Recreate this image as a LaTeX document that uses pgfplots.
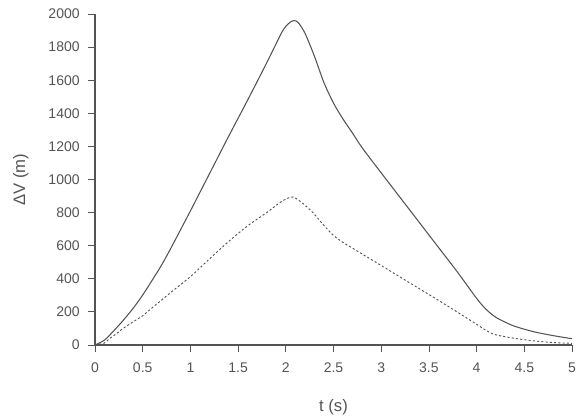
\documentclass[border=0pt]{standalone}
\usepackage{fontspec}
\setmainfont{Liberation Sans}
\usepackage{pgfplots}
\pgfplotsset{compat=1.18}
\usetikzlibrary{calc}
\definecolor{ink}{gray}{0.33}

\begin{document}
\begin{tikzpicture}
\begin{axis}[
  name=ax,
  scale only axis,
  width=357.75pt, height=248.25pt,
  xmin=0, xmax=5, ymin=0, ymax=2000,
  axis lines=left,
  axis line style={-, ink, line width=0.8pt},
  tick style={ink, line width=0.6pt},
  tick align=outside,
  major tick length=5pt,
  xtick={0,0.5,...,5},
  ytick={0,200,...,2000},
  xticklabels={0,0.5,1,1.5,2,2.5,3,3.5,4,4.5,5},
  scaled y ticks=false,
  /pgf/number format/assume math mode=true,
  /pgf/number format/1000 sep={},
  ticklabel style={font=\fontsize{10.5}{12}\selectfont, text=ink},
  xticklabel style={yshift=-5pt},
  yticklabel style={xshift=-3pt},
  xlabel={t (s)},
  ylabel={ΔV (m)},
  label style={font=\fontsize{12.5}{14}\selectfont, text=ink},
  xlabel style={yshift=-13pt},
  ylabel style={yshift=8pt},
  clip=false,
]
\addplot[ink, line width=0.8pt, smooth] coordinates {
  (0,0) (0.1,30) (0.2,88) (0.3,152) (0.4,222) (0.5,302) (0.6,392)
  (0.7,485) (0.8,590) (0.9,700) (1.0,810) (1.2,1035) (1.4,1260)
  (1.6,1480) (1.8,1705) (1.95,1880) (2.0,1925) (2.05,1952) (2.09,1960)
  (2.13,1948) (2.2,1885) (2.3,1745) (2.4,1585) (2.5,1462) (2.6,1365)
  (2.7,1280) (2.8,1192) (3.0,1040) (3.2,890) (3.4,740) (3.6,590)
  (3.8,440) (4.0,282) (4.1,215) (4.2,168) (4.3,138) (4.4,113)
  (4.6,80) (4.8,57) (5.0,38)
};
\addplot[ink, line width=0.7pt, smooth, dash pattern=on 1.6pt off 1.6pt] coordinates {
  (0,0) (0.1,12) (0.15,38) (0.2,58) (0.3,102) (0.4,140) (0.5,177)
  (0.6,225) (0.8,320) (1.0,413) (1.2,520) (1.4,625) (1.6,720)
  (1.8,800) (1.95,865) (2.05,893) (2.1,888) (2.2,845) (2.3,790)
  (2.4,722) (2.5,662) (2.6,620) (2.8,550) (3.0,480) (3.2,410)
  (3.4,340) (3.6,270) (3.8,198) (4.0,125) (4.1,88) (4.2,62)
  (4.4,40) (4.6,25) (4.8,15) (5.0,10)
};
\end{axis}
\pgfresetboundingbox
\useasboundingbox ($(ax.south west)+(-71.25pt,-53.25pt)$) rectangle ($(ax.north east)+(6.75pt,10.5pt)$);
\end{tikzpicture}
\end{document}
